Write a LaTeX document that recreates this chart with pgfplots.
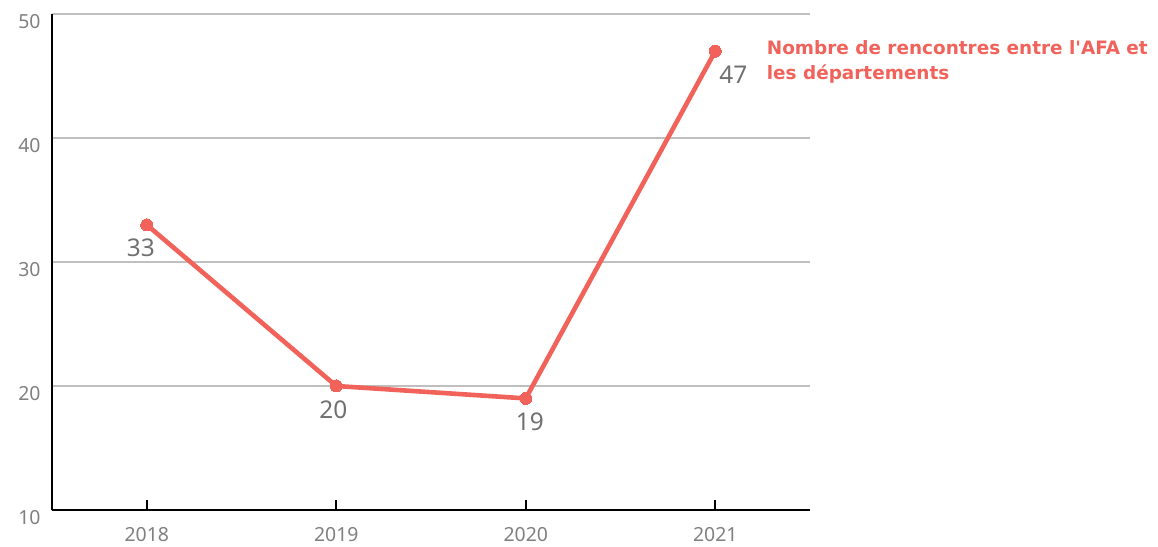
\documentclass[border=0pt]{standalone}
\usepackage{pgfplots}
\pgfplotsset{compat=1.18}
\usepackage{fontspec}
\setmainfont{Noto Sans}
\newfontfamily\labelfont{DejaVu Sans}
\definecolor{serie}{HTML}{F0625A}
\definecolor{gridc}{HTML}{BFBFBF}
\definecolor{tickc}{HTML}{808080}
\definecolor{valc}{HTML}{707070}
\begin{document}
\begin{tikzpicture}[x=1bp,y=1bp]
\begin{axis}[
  scale only axis,
  width=758bp, height=496bp,
  xmin=-0.5, xmax=3.5,
  ymin=10, ymax=50,
  xtick={0,1,2,3},
  xticklabels={2018,2019,2020,2021},
  ytick={10,20,30,40,50},
  axis lines*=left,
  axis line style={black, line width=2.2bp, -},
  ymajorgrids,
  grid style={gridc, line width=1.6bp},
  major x tick style={black, line width=1.8bp},
  xtick pos=bottom,
  major tick length=10bp,
  xtick align=inside,
  ytick style={draw=none},
  ytick pos=left,
  tick label style={font=\fontsize{19.5}{22}\selectfont, text=tickc},
  xticklabel style={yshift=-14bp},
  yticklabel style={yshift=-8bp, xshift=-8bp},
  /pgf/number format/assume math mode=true,
  clip=false,
  nodes near coords,
  point meta=explicit symbolic,
  visualization depends on={\thisrow{dx} \as \dx},
  every node near coord/.append style={font=\fontsize{24.5}{26}\selectfont, text=valc, anchor=north, xshift=\dx bp, yshift=-11bp},
]
\addplot[color=serie, line width=4.6bp, mark=*, mark size=6bp, mark options={fill=serie, draw=serie, line width=0pt}]
  table[x=x, y=y, meta=lab] {
x y lab dx
0 33 33 -6
1 20 20 -3
2 19 19 4
3 47 47 18
}
  node[pos=1, anchor=north west, xshift=46bp, yshift=16bp, align=left, text=serie,
       font=\labelfont\bfseries\fontsize{18.5}{25}\selectfont]
  {Nombre de rencontres entre l'AFA et\\les départements};
\end{axis}
\pgfresetboundingbox
\path ([xshift=-52bp,yshift=-37bp]current axis.south west) rectangle ([xshift=348bp,yshift=14bp]current axis.north east);
\end{tikzpicture}
\end{document}
